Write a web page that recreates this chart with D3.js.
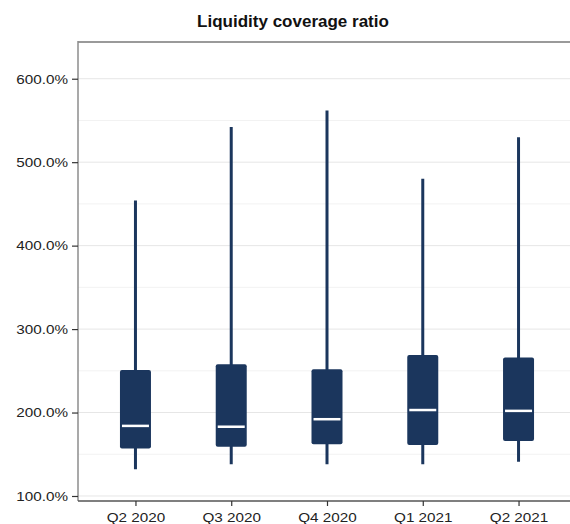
<!DOCTYPE html>
<html>
<head>
<meta charset="utf-8">
<script src="https://cdn.jsdelivr.net/npm/d3@7"></script>
<style>
  html, body { margin: 0; padding: 0; background: #fff; }
  svg { display: block; }
  text { font-family: "Liberation Sans", Arial, sans-serif; }
</style>
</head>
<body>
<svg id="chart" width="570" height="524"></svg>
<script>
// Data (values in %)
const categories = ["Q2 2020", "Q3 2020", "Q4 2020", "Q1 2021", "Q2 2021"];
const whiskerLow  = [132, 138, 138, 138, 141];
const q1          = [157, 159, 162, 161, 166];
const median      = [184, 183, 192, 203, 202];
const q3          = [251, 258, 252, 269, 266];
const whiskerHigh = [454, 542, 562, 480, 530];
const majorTicks  = [100, 200, 300, 400, 500, 600];
const minorTicks  = [150, 250, 350, 450, 550];
const title = "Liquidity coverage ratio";

(function () {
const svg = d3.select("#chart");
const pL = 78, pR = 576, pT = 42, pB = 501;
const sx = 1.13; // horizontal stretch of tick labels
const fs = "13.5px";

const x = d3.scalePoint().domain(categories).range([pL, pR]).padding(0.6);
const y = d3.scaleLinear().domain([94, 644]).range([pB, pT]);

// gridlines
svg.append("g").selectAll("line").data(minorTicks).join("line")
  .attr("x1", pL).attr("x2", pR)
  .attr("y1", d => y(d)).attr("y2", d => y(d))
  .attr("stroke", "#f2f2f2").attr("stroke-width", 1);
svg.append("g").selectAll("line").data(majorTicks).join("line")
  .attr("x1", pL).attr("x2", pR)
  .attr("y1", d => y(d)).attr("y2", d => y(d))
  .attr("stroke", "#e6e6e6").attr("stroke-width", 1);

// frame top
svg.append("line").attr("x1", pL).attr("x2", 570).attr("y1", pT).attr("y2", pT)
  .attr("stroke", "#9a9a9a").attr("stroke-width", 2);

// y axis
const yAxis = d3.axisLeft(y).tickValues(majorTicks).tickSize(6).tickPadding(4)
  .tickFormat(d => d3.format(".1f")(d) + "%");
const gy = svg.append("g").attr("transform", `translate(${pL},0)`).call(yAxis);
gy.select(".domain").attr("stroke", "#8c8c8c").attr("stroke-width", 1.5)
  .attr("d", `M0,${pT - 1}V${pB}`);
gy.selectAll(".tick line").attr("stroke", "#333").attr("stroke-width", 1.2);
gy.selectAll(".tick text").attr("fill", "#222").style("font-size", fs)
  .style("font-family", "'Liberation Sans', Arial, sans-serif")
  .attr("x", -10 / sx).attr("transform", `scale(${sx},1)`);

// x axis
const xAxis = d3.axisBottom(x).tickSize(5).tickPadding(6);
const gx = svg.append("g").attr("transform", `translate(0,${pB})`).call(xAxis);
gx.select(".domain").attr("stroke", "#555").attr("stroke-width", 1.5)
  .attr("d", `M${pL},0H570`);
gx.selectAll(".tick line").attr("stroke", "#333").attr("stroke-width", 1.2);
gx.selectAll(".tick text").attr("fill", "#222").style("font-size", fs)
  .style("font-family", "'Liberation Sans', Arial, sans-serif")
  .attr("transform", `scale(${sx},1)`);

// boxes
const boxW = 31;
const color = "#1b365d";
const g = svg.append("g");
categories.forEach((c, i) => {
  const cx = x(c);
  g.append("line").attr("x1", cx).attr("x2", cx)
    .attr("y1", y(whiskerHigh[i])).attr("y2", y(whiskerLow[i]))
    .attr("stroke", color).attr("stroke-width", 3);
  g.append("rect").attr("x", cx - boxW / 2).attr("width", boxW)
    .attr("y", y(q3[i])).attr("height", y(q1[i]) - y(q3[i]))
    .attr("rx", 2).attr("fill", color);
  g.append("line").attr("x1", cx - boxW / 2 + 2).attr("x2", cx + boxW / 2 - 2)
    .attr("y1", y(median[i])).attr("y2", y(median[i]))
    .attr("stroke", "#fff").attr("stroke-width", 2.5);
});

// title
svg.append("text").attr("x", 293).attr("y", 27).attr("text-anchor", "middle")
  .style("font-size", "17px").style("font-weight", "bold").attr("fill", "#111")
  .text(title);
})();
</script>
</body>
</html>
